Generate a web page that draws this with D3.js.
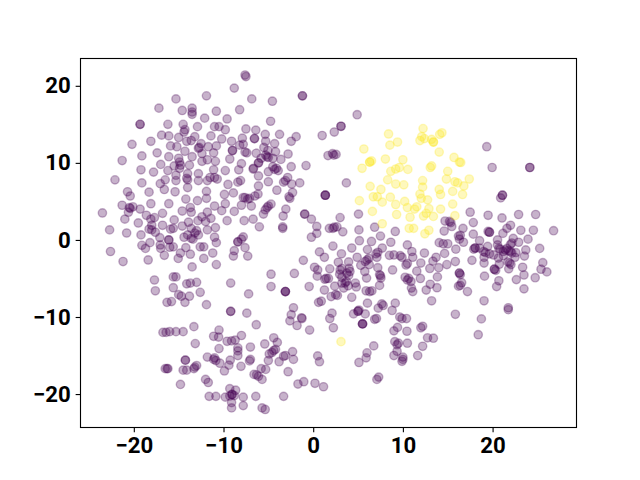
<!DOCTYPE html>
<html>
<head>
<meta charset="utf-8">
<script src="https://cdn.jsdelivr.net/npm/d3@7"></script>
<style>
  html, body { margin: 0; padding: 0; background: #fff; }
  svg { display: block; }
  .tick text { font-family: Roboto, sans-serif; font-weight: 700; font-size: 22.2px; fill: #000; }
</style>
</head>
<body>
<svg id="chart" width="640" height="480"></svg>
<script>
const xTicks = [-20, -10, 0, 10, 20];
const yTicks = [-20, -10, 0, 10, 20];
const xRange = [-26.0, 29.3];
const yRange = [-24.3, 23.66];

// class 0; repeated pairs are the darker spots
const purplePoints = [
  [-7.6,21.4],[-7.5,21.2],[-8.8,19.7],[-11.9,18.7],[-15.3,18.3],[-17.2,17.1],[-14.6,16.8],[-13.5,17.1],[-13.5,16.6],[-13.5,16.3],
  [-10.8,16.7],[-8.2,16.9],[-12.1,15.8],[-9.6,15.7],[-19.3,15],[-19.3,15],[-16.2,15],[-14.5,15],[-12.9,14.7],[-11,14.7],
  [-10.5,14.7],[-9.8,14.3],[-7.5,14.4],[-14.3,14.3],[-14.4,14],[-16.9,13.6],[-16.1,13.5],[-15,13.3],[-13.2,13.4],[-11.4,13.5],
  [-10.2,13.1],[-9.1,12.8],[-7.9,13.2],[-14.1,12.8],[-13.6,12.9],[-20.2,12.4],[-18.1,12.8],[-15.9,12.2],[-15.2,12.1],[-12.5,12.5],
  [-12.7,12],[-12.8,11.9],[-11.7,12.1],[-10.8,12.2],[-8.2,12.3],[-7.8,12.4],[-9,11.6],[-9,11.6],[-7.4,11.3],[-7.6,11.4],
  [-14.3,11.5],[-17.4,11.3],[-12.4,11.2],[-11.1,11.3],[-19.1,10.9],[-16.1,10.8],[-13.5,10.8],[-15,10.6],[-9.3,10.5],[-21.3,10.3],
  [-12.4,10.2],[-11.8,10.4],[-10.9,10.2],[-8,9.9],[-17,9.8],[-14.9,10.1],[-14.8,9.7],[-15.5,9.6],[-13.8,9.7],[-14.9,9.3],
  [-19.2,9.1],[-17.8,8.8],[-16.2,9],[-11.1,9.1],[-9.8,9],[-8.3,9.1],[-6.7,9.2],[-15.3,8.4],[-14,8.6],[-12.8,8.6],
  [-14.1,8],[-14,7.8],[-22.1,7.8],[-19.1,7.4],[-16.5,7.8],[-15.3,7.7],[-12.8,7.7],[-11.5,8.1],[-11,8.1],[-10.7,7.9],
  [-11.8,7.7],[-9.5,7.2],[-8.4,7.5],[-8.1,7.7],[-17.05,7.3],[-16.6,6.55],[-14,6.8],[-20.7,6.25],[-20.4,5.7],[-18.3,6.2],
  [-15.4,6.25],[-11.9,6.3],[-11.9,5.4],[-9.9,5.9],[-8.9,6.1],[-7.6,5.5],[-7.3,5.3],[-7.8,5.5],[-7.1,5.4],[-14.2,5.3],
  [-12.9,5.1],[-21.3,4.5],[-20.1,4.3],[-20.5,4.2],[-20.4,4.1],[-20.6,3.6],[-18.1,4.7],[-16.1,4.7],[-19.3,4],[-11,4.4],
  [-9.8,4.7],[-8,4.5],[-6.9,4.4],[-13.7,4.2],[-14.6,3.75],[-13.6,3.6],[-16.8,3.45],[-10.2,3.8],[-8.8,3.7],[-23.5,3.5],
  [-18.6,3.2],[-17.7,2.9],[-18.1,2.7],[-21,2.7],[-11.8,3.6],[-12.4,3],[-11.4,2.8],[-12,2.4],[-12.85,2.5],[-15.5,2.6],
  [-13.9,2.3],[-9.6,2.5],[-7.7,2.5],[-19.5,2.2],[-18,1.9],[-18.3,1.4],[-18,1.3],[-16.8,1.9],[-14.6,1.8],[-22.7,1.3],
  [-20.8,0.9],[-19.2,0.65],[-17.6,1],[-15.9,1.4],[-15.6,1.5],[-13.6,1.5],[-13,1.2],[-12.8,0.65],[-14,0.65],[-11.8,1.3],
  [-10.9,1.6],[-17.1,0.3],[-16.1,0],[-16.1,0],[-14.4,0.35],[-13.2,0.9],[-13.4,0.1],[-13.6,0.2],[-11,0.35],[-10.8,-0.35],
  [-7.8,0.4],[-8.4,-0.25],[-8.4,-0.25],[-8,0.1],[-19.1,-0.7],[-18.7,-1.1],[-18.2,-0.35],[-17.05,-0.65],[-17,-1.1],[-16,-0.95],
  [-15.6,-0.9],[-14.2,-1],[-12.6,-0.9],[-12.2,-0.9],[-7.6,-1],[-8.8,-1.4],[-8.9,-2.1],[-7.3,-2.1],[-22.6,-1.5],[-14.8,-1.7],
  [-15.05,-2.4],[-13.7,-1.85],[-16.6,-2],[-11.2,-1.7],[-12.2,-2.4],[-21.2,-2.8],[-18.4,-2.6],[-13.5,-3.5],[-10.8,-3.2],[-17.7,-5.2],
  [-15.6,-4.8],[-15.3,-4.8],[-13,-5.5],[-13.7,-5.6],[-14.1,-5.7],[-9.2,-5.6],[-17.6,-6.6],[-15.6,-6.2],[-12.6,-6.8],[-7.2,-7],
  [-15,-7.1],[-14.7,-7.3],[-13.8,-7.3],[-16.3,-8.1],[-15.8,-8],[-14.3,-8.1],[-11.9,-8.4],
  [-9.2,-9.27],[-9.2,-9.27],[-7.4,-9.5],[-6.35,-11],[-2.2,-8.8],[-2.45,-9.7],[-2.6,-10.5],[-1.8,-11.1],[-1.3,-10.1],[-13.3,-11.25],
  [-16.75,-12],[-16.4,-12],[-16,-11.9],[-15.3,-11.9],[-14.5,-11.9],[-10.5,-11.7],[-11.1,-12.5],[-10.55,-12.6],[-8,-12.4],[-9.6,-13.15],
  [-9.1,-13.1],[-8.7,-13],[-13.15,-13.45],[-10.5,-14.1],[-8.4,-14],[-8.4,-14.4],[-8.4,-15],[-7,-13.9],[-5.4,-13.5],[-4.4,-12.7],
  [-4,-13.3],[-4.4,-14.35],[-4.2,-14.2],[-4.6,-14.6],[-4.9,-14.8],[-2.3,-14.5],[-3.1,-15],[-3.3,-15.1],[-3.8,-15.8],[-2.2,-15.5],
  [-5,-15.65],[-11.8,-15.2],[-11.1,-15.5],[-11,-15.3],[-10.85,-15.65],[-10.4,-16],[-9.25,-15.6],[-9.4,-16.25],[-14.25,-15.6],[-14.25,-15.6],
  [-7,-15.5],[-7.1,-15.7],[-13,-16.3],[-13.2,-16.5],[-13.3,-16.7],[-8.05,-16.4],[-9.9,-17],[-16.5,-16.7],[-16.2,-16.7],[-16.3,-16.7],
  [-14.5,-16.9],[-14.1,-16.9],[-5.8,-16.7],[-5.3,-16.8],[-6.6,-17.45],[-6.1,-17.7],[-6.3,-17.5],[-5.7,-18.1],[-2.8,-17.1],[-14.8,-18.75],
  [-12,-18.1],[-11.7,-18.5],[-1.7,-18.7],[-9.3,-19.3],[-8.65,-19.5],[-9.05,-20.05],[-9.05,-20.05],[-8.8,-20.2],[-9.3,-20.25],[-11.6,-20.3],
  [-10.85,-20.3],[-9.8,-20.4],[-7.8,-20.4],[-6.4,-20.3],[-3.3,-20.3],[-9.1,-21.1],[-9.1,-21.8],[-7.8,-21.5],[-5.7,-21.8],[-5.35,-22],
  [-6.85,18.3],[-4.55,18],[-1.2,18.7],[-1.2,18.7],[4.9,16.25],[-4.75,15.4],[3.1,14.75],[3.1,14.75],[2.35,14],[1,13.55],
  [-6.4,14.25],[-5.35,13.7],[-3.75,13.7],[-1.9,13.4],[-2.45,12.8],[-6.55,13.15],[-6.55,13.15],[-5.3,12.8],[-4.3,12.5],[-5.5,12],
  [-6.35,11.25],[-5.05,11.6],[-4.2,11.45],[-2.8,11.15],[-5.15,10.8],[-5.3,11],[-5,10.7],[-4.5,10.6],[-3.6,10.45],[-5.8,10.6],
  [-6.1,10],[-6.1,10],[-0.8,9.65],[-2.45,9.5],[-6.65,9.3],[-4.5,9.5],[-3.9,9],[-4.3,9.15],[-4.1,9.3],[-5,8.85],
  [-6.1,8.3],[-2.85,8.1],[-3.1,7.7],[-3.3,7.5],[-5,7.55],[-6.1,7],[-1.5,7.4],[-2.4,7.25],[3.7,7.4],[1.65,10.95],
  [2.15,11.2],[2.3,11],[2.55,11.1],[1.35,5.8],[1.35,5.8],[1.35,5.8],[-4.05,6.45],[-6.15,5.95],[-6.5,5.7],[-2.3,6.15],
  [-2.6,5.4],[-2.7,5.6],[-4.7,4.65],[-5.15,4.2],[-5,4.4],[-5.35,3.9],[-5.55,3.35],[-3.05,4],[-3.35,3.1],[-0.95,3.35],
  [-0.95,3.35],[-0.2,2.7],[3,2.9],[5.05,3.35],[-6.7,2.7],[-6,1.7],[-3.4,1.7],[-3.4,1.5],[0.4,1.75],[0.4,0.85],
  [-0.2,0.35],[1.8,1.5],[2.35,1.65],[2.2,1.5],[2.65,1.7],[3.3,1.05],[5.1,1.3],[6.85,1.65],[9.15,1.1],[7.5,0.5],
  [5.15,-0.1],[6.5,-0.2],[8.65,-0.3],[10.5,-0.65],[2.2,-0.8],[4.3,-1.05],[7.7,-1.05],[6.05,-1.25],[0.7,-1.55],[1.25,-2.25],
  [3.15,-1.8],[4.9,-2.25],[7,-1.8],[7.2,-1.6],[7.1,-2.25],[6,-2.6],[5.8,-2.8],[6.2,-2.4],[2.8,-2.9],[3.95,-2.85],
  [-1.1,-2.65],[5.3,-3.3],[6.25,-3.2],[7.2,-3.6],[8.5,-2],[9,-1.95],[9.7,-2.05],[9.9,-2.25],[11,-1.5],[11.1,-2.25],
  [8.85,-3.9],[10.35,-3.25],[10.5,-3.05],[0.15,-3.55],[0.5,-3.9],[1.85,-3.75],[-2.1,-4.35],[-4.7,-4.45],[3,-3.9],[3.2,-3.7],
  [2.95,-4.45],[4,-3.7],[4.1,-4.1],[3.75,-4.3],[5.75,-4.1],[0.45,-4.7],[1.45,-5],[1.3,-5.1],[1.7,-5],[3.2,-4.85],
  [3.95,-4.6],[7.5,-4.65],[7.4,-4.5],[7.55,-4.95],[5.95,-4.95],[10.25,-4.85],[10.65,-5],[10.5,-5.2],[10.9,-5.4],[2.4,-6],
  [3.2,-5.6],[3.55,-5.6],[3.7,-5.4],[3.9,-5.95],[3.4,-6.25],[4.8,-6.1],[4.7,-5.6],[7.4,-5.9],[1.25,-6.5],[5.9,-6.6],
  [6.55,-6.6],[6.3,-6.7],[10.95,-6.25],[11.1,-6.7],[-0.45,-6.05],[-4.7,-6.05],[-3.1,-6.7],[-3.1,-6.7],[-3.1,-6.7],[2.7,-7.2],
  [2.5,-7.1],[2,-7.35],[4.3,-7.45],[0.9,-7.95],[0.6,-8.1],[6.05,-8.2],[7.65,-8.3],
  [5,-9.25],[5,-9.25],[5.1,-9.1],[4.5,-9.6],[5.8,-9.6],[7.25,-8.85],[7.8,-8.5],[8.8,-9.15],[9.15,-8.2],[13.2,-7.9],
  [-1.25,-10.2],[-0.4,-11.7],[2.1,-9.5],[1.85,-10.2],[2.25,-11.4],[9.65,-10],[9.9,-10.2],[10.4,-10.2],[6.85,-10.3],[7.05,-10.2],
  [5.5,-10.9],[5.5,-10.9],[5.5,-10.9],[9.4,-11.35],[9,-11.8],[10.45,-11.85],[12.2,-11.2],[12,-11.4],[15.85,-9.65],[12.75,-12.7],
  [13.4,-12.75],[9.1,-13.2],[9.35,-13.6],[9.5,-13.4],[10.5,-13.4],[12.2,-13.8],[6.75,-13.75],[9.35,-14.45],[6,-14.65],[5.9,-15.3],
  [5.1,-15.9],[9,-15],[10,-15.2],[9.9,-15.75],[10,-15.5],[11.65,-15],[0.5,-15.05],[0.7,-15.8],[-1.05,-18.4],[0.2,-18.6],
  [1.15,-19.05],[7.3,-17.8],[7.1,-18.1],
  [21.1,5.8],[21.1,5.8],[20.9,5.45],[17.5,3.6],[19.5,3.2],[21.05,2.85],[22.9,3.3],[24.8,3.3],[14.7,2.45],[15.35,2.25],
  [15.2,2.4],[15.45,1.75],[17.85,2.25],[22,1.9],[21.6,1.5],[16.7,1.5],[14.6,1.15],[19.65,1],[19.65,1],[19.5,1.1],
  [23.15,1.25],[24.55,1.25],[26.8,1.2],[21.15,0.85],[17.85,0.75],[16.2,0.5],[16.4,0.6],[16.3,0.1],[16.75,-0.3],[22.3,0.2],
  [22.9,-0.3],[22.15,-0.4],[22,-0.6],[23.95,0.1],[20.55,0],[18.55,-0.1],[20.55,-0.65],[14.05,-0.35],[14.5,-0.5],[15,-0.5],
  [15.9,-1.2],[18.05,-1.05],[18.05,-1.05],[17.9,-1.2],[18.55,-1.05],[19.45,-0.85],[20.85,-1.2],[20.7,-1.1],[21.4,-1.3],[21.2,-1.5],
  [21.6,-1.1],[21.8,-1.4],[22,-1.5],[23.7,-1.3],[25.25,-1.1],[22.6,-1.65],[22.15,-1.7],[19.2,-1.65],[19,-1.5],[19.65,-1.8],
  [12.4,-1.7],[14.65,-1.75],[13.7,-2.25],[13.35,-2.75],[12,-3],[15.85,-2.8],[17.7,-2.65],[19.05,-2.25],[19.05,-3],[20.1,-1.95],
  [20.65,-2.35],[21.2,-2.05],[22.5,-2.25],[23.55,-2.1],[20.75,-3.15],[21.9,-3],[21.7,-2.85],[22.05,-3.2],[14.9,-3.2],[14,-3.6],
  [13,-3.7],[11.55,-4.05],[20.2,-3.8],[20.2,-3.8],[20.35,-3.95],[21.8,-3.75],[23.35,-3.55],[25.6,-2.95],[25.4,-3.8],[26.05,-4.15],
  [16.3,-4.3],[16.3,-4.3],[16.4,-4.5],[13.85,-4.8],[11.95,-5],[19.1,-4.7],[23.5,-4.55],[24.75,-4.9],[22.65,-5.15],[20.7,-5.3],
  [16.55,-5.55],[16.4,-5.9],[16.2,-6],[20.45,-6.05],[13.05,-5.75],[13.8,-6.2],[12.6,-6.5],[17.2,-6.7],[23.5,-6.35],[19.05,-7.9],
  [19.35,12.1],[19.95,9.4],[24.15,9.4],[24.15,9.4],[18.75,-10.25],[18.4,-12.3],[21.75,-8.8],[21.75,-9.05]
];

// class 1
const yellowPoints = [
  [12.25,14.45],[8.4,13.75],[14.35,13.9],[14.1,13.7],[12.1,13.4],[12.4,13.15],[11.9,12.9],[13.2,13.05],[13.4,12.7],[13.4,12.7],
  [9.4,12.7],[8.55,12.3],[5.65,11.8],[14.05,11.4],[15.7,10.7],[10,10.4],[8.05,10.5],[6.5,10.25],[6.3,10.1],[6.3,10.1],
  [16.45,10.05],[16.3,10.1],[13.2,9.6],[13.05,9.4],[9.6,9.4],[9.2,9.2],[5.45,9.3],[10.55,9.15],[8.65,8.9],[15,8.9],
  [8.3,7.8],[14.85,7.9],[17.4,7.9],[12.2,7.7],[9.2,7.25],[10.1,7.15],[15.8,7.55],[16.1,7.4],[16.8,7],[6.35,6.95],
  [7.55,6.55],[12.2,6.85],[14.05,6.55],[14.2,5.9],[15.55,6.3],[16.65,5.9],[11.9,5.95],[6.7,5.6],[7.15,5.6],[8.6,5.55],
  [12.05,5.4],[12.75,5.2],[5.15,5.1],[7.7,4.9],[10.2,5],[9.2,4.6],[15.55,4.65],[11.55,4.3],[10.5,4.2],[11.3,4],
  [12.9,4.05],[14.2,4],[6.6,3.7],[9.3,3.3],[12.6,3.45],[12.3,3.1],[13.4,3.05],[10.8,2.95],[15.8,3.15],[7.7,2.1],
  [10.7,1.5],[11.2,1.5],[12.9,1.25],[12.45,0.8],[3.1,-13.2]
];

const margin = {top: 57.6, right: 64, bottom: 52.8, left: 80};
const width = 640 - margin.left - margin.right;
const height = 480 - margin.top - margin.bottom;

const x = d3.scaleLinear().domain(xRange).range([0, width]);
const y = d3.scaleLinear().domain(yRange).range([height, 0]);

const svg = d3.select('#chart');
const g = svg.append('g')
  .attr('transform', 'translate(' + margin.left + ',' + margin.top + ')');

function drawPoints(points, color) {
  g.append('g').selectAll('circle')
    .data(points).enter().append('circle')
    .attr('cx', d => x(d[0]))
    .attr('cy', d => y(d[1]))
    .attr('r', 4.17)
    .attr('fill', color)
    .attr('fill-opacity', 0.3)
    .attr('stroke', color)
    .attr('stroke-opacity', 0.3)
    .attr('stroke-width', 1.39);
}

drawPoints(purplePoints, '#440154');
drawPoints(yellowPoints, '#fde725');

// frame, nudged onto the pixel rows the spines land on
g.append('rect')
  .attr('x', 0.5)
  .attr('y', 0.9)
  .attr('width', width)
  .attr('height', 369)
  .attr('fill', 'none')
  .attr('stroke', '#000')
  .attr('stroke-width', 1.11);

const xAxis = g.append('g')
  .attr('transform', 'translate(0,' + (height + 0.3) + ')')
  .call(d3.axisBottom(x).tickValues(xTicks).tickSize(4.86).tickPadding(4.86));
const yAxis = g.append('g')
  .attr('transform', 'translate(0.5,0)')
  .call(d3.axisLeft(y).tickValues(yTicks).tickSize(4.86).tickPadding(4.86));

[xAxis, yAxis].forEach(a => {
  a.select('.domain').remove();
  a.selectAll('.tick line').attr('stroke', '#000').attr('stroke-width', 1.11);
  a.attr('font-family', null).attr('font-size', null);
});
</script>
</body>
</html>
